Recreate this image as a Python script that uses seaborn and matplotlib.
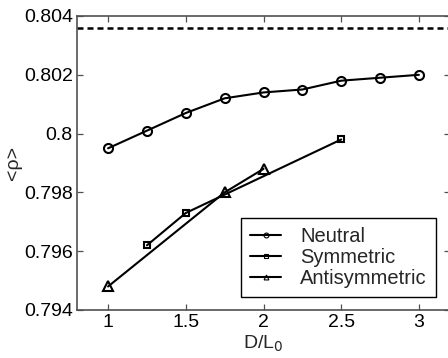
import numpy as np
import pandas as pd
import matplotlib
matplotlib.use("Agg")
import matplotlib.pyplot as plt
import seaborn as sns
from matplotlib.ticker import FixedLocator, FuncFormatter

# ---- data ----
neutral_x = [1.0, 1.25, 1.5, 1.75, 2.0, 2.25, 2.5, 2.75, 3.0]
neutral_y = [0.7995, 0.8001, 0.8007, 0.8012, 0.8014, 0.8015, 0.8018, 0.8019, 0.8020]
symmetric_x = [1.25, 1.5, 2.5]
symmetric_y = [0.7962, 0.7973, 0.7998]
antisym_x = [1.0, 1.75, 2.0]
antisym_y = [0.7948, 0.7980, 0.7988]
reference_level = 0.8036
series_names = ["Neutral", "Symmetric", "Antisymmetric"]
x_ticks = [1, 1.5, 2, 2.5, 3]
y_ticks = [0.794, 0.796, 0.798, 0.800, 0.802, 0.804]

sns.set_style("ticks")
plt.rcParams["font.family"] = ["Liberation Sans", "DejaVu Sans"]

fig = plt.figure(figsize=(4.48, 3.58), dpi=100)
ax = fig.add_axes([77/448, 1-310/358, 373/448, 294/358])

frames = [
    pd.DataFrame({"x": neutral_x, "y": neutral_y, "s": series_names[0]}),
    pd.DataFrame({"x": symmetric_x, "y": symmetric_y, "s": series_names[1]}),
    pd.DataFrame({"x": antisym_x, "y": antisym_y, "s": series_names[2]}),
]
markers = ["o", "s", "^"]
msizes = [6.5, 5.0, 6.8]
for df, m, ms, name in zip(frames, markers, msizes, series_names):
    sns.lineplot(data=df, x="x", y="y", ax=ax, color="black", lw=1.5,
                 marker=m, markersize=ms, markerfacecolor="none",
                 markeredgecolor="black", markeredgewidth=1.5, label=name,
                 legend=False)

ax.axhline(reference_level, color="black", lw=1.8, linestyle=(0, (2.4, 1.6)))

ax.set_xlim(0.8, 3.2)
ax.set_ylim(0.794, 0.804)
ax.xaxis.set_major_locator(FixedLocator(x_ticks))
ax.yaxis.set_major_locator(FixedLocator(y_ticks))
ax.xaxis.set_major_formatter(FuncFormatter(lambda v, p: "%g" % v))
ax.yaxis.set_major_formatter(FuncFormatter(lambda v, p: "%g" % round(v, 3)))

for sp in ax.spines.values():
    sp.set_visible(True)
    sp.set_color("#505050")
    sp.set_linewidth(1.2)
ax.tick_params(direction="in", length=4, width=0.9, color="#505050",
               labelsize=14, top=True, right=True, pad=3, labelcolor="black")

ax.set_xlabel("D/L$_0$", fontsize=14, labelpad=2)
ax.set_ylabel("<ρ>", fontsize=14, labelpad=1)

handles = [plt.Line2D([], [], color="black", lw=1.5, marker=m, markersize=3.5,
                      markerfacecolor="none", markeredgecolor="black",
                      markeredgewidth=0.8) for m in markers]
leg = ax.legend(handles, series_names, loc="lower right",
                bbox_to_anchor=(0.9625, 0.044), borderaxespad=0,
                fontsize=14.5, frameon=True, fancybox=False, handlelength=1.55,
                handletextpad=0.95, labelspacing=0.1, borderpad=0.45)
leg.get_frame().set_edgecolor("black")
leg.get_frame().set_linewidth(1.0)
leg.get_frame().set_alpha(1)

fig.savefig("out.png", dpi=100)
